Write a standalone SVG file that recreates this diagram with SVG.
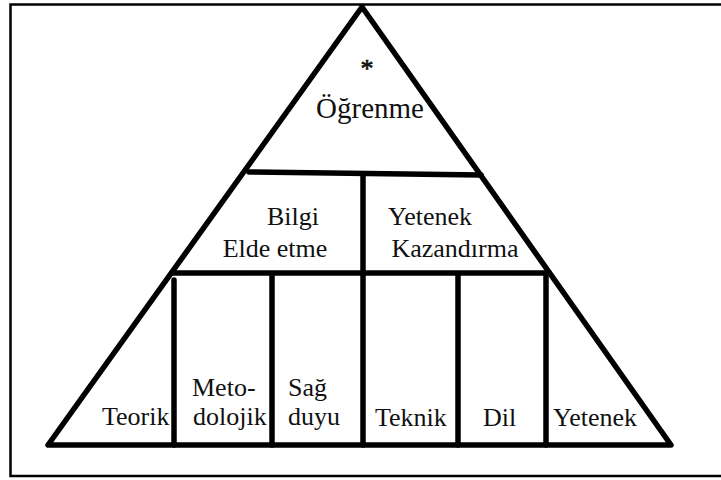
<svg xmlns="http://www.w3.org/2000/svg" width="721" height="480" viewBox="0 0 721 480">
  <style>
    .ln { stroke: #000; stroke-width: 5.5; fill: none; stroke-linecap: round; stroke-linejoin: round; }
    .t { font-family: "Liberation Serif", "Times New Roman", serif; font-size: 26px; fill: #111; }
    .big { font-size: 29px; }
  </style>
  <rect x="10.5" y="4.5" width="720" height="471.5" fill="#fff" stroke="#000" stroke-width="2.5"/>
  <g id="lines">
    <polygon class="ln" points="362,7 48,445 671,445"/>
    <line class="ln" x1="249" y1="172" x2="481" y2="175"/>
    <line class="ln" x1="363" y1="176" x2="363" y2="445"/>
    <line class="ln" x1="172" y1="273" x2="549" y2="273"/>
    <line class="ln" x1="174" y1="280" x2="174" y2="445"/>
    <line class="ln" x1="272" y1="276" x2="272" y2="445"/>
    <line class="ln" x1="458" y1="276" x2="458" y2="445"/>
    <line class="ln" x1="546" y1="276" x2="546" y2="445"/>
  </g>
  <g id="ogrenme">
    <text class="t" x="367" y="77" text-anchor="middle" font-size="44" stroke="#111" stroke-width="0.7">*</text>
    <text class="t big" x="370" y="118" text-anchor="middle">Öğrenme</text>
  </g>
  <g id="bilgi">
    <text class="t" x="293" y="225" text-anchor="middle">Bilgi</text>
    <text class="t" x="275" y="257" text-anchor="middle">Elde etme</text>
  </g>
  <g id="yetenek-kazandirma">
    <text class="t" x="430" y="225" text-anchor="middle">Yetenek</text>
    <text class="t" x="455" y="257" text-anchor="middle">Kazandırma</text>
  </g>
  <g id="teorik"><text class="t" x="102" y="425">Teorik</text></g>
  <g id="metodolojik">
    <text class="t" x="192" y="396">Meto-</text>
    <text class="t" x="193" y="425">dolojik</text>
  </g>
  <g id="sagduyu">
    <text class="t" x="288" y="396">Sağ</text>
    <text class="t" x="288" y="425">duyu</text>
  </g>
  <g id="teknik"><text class="t" x="375" y="426">Teknik</text></g>
  <g id="dil"><text class="t" x="483" y="426">Dil</text></g>
  <g id="yetenek"><text class="t" x="553" y="426">Yetenek</text></g>
</svg>
